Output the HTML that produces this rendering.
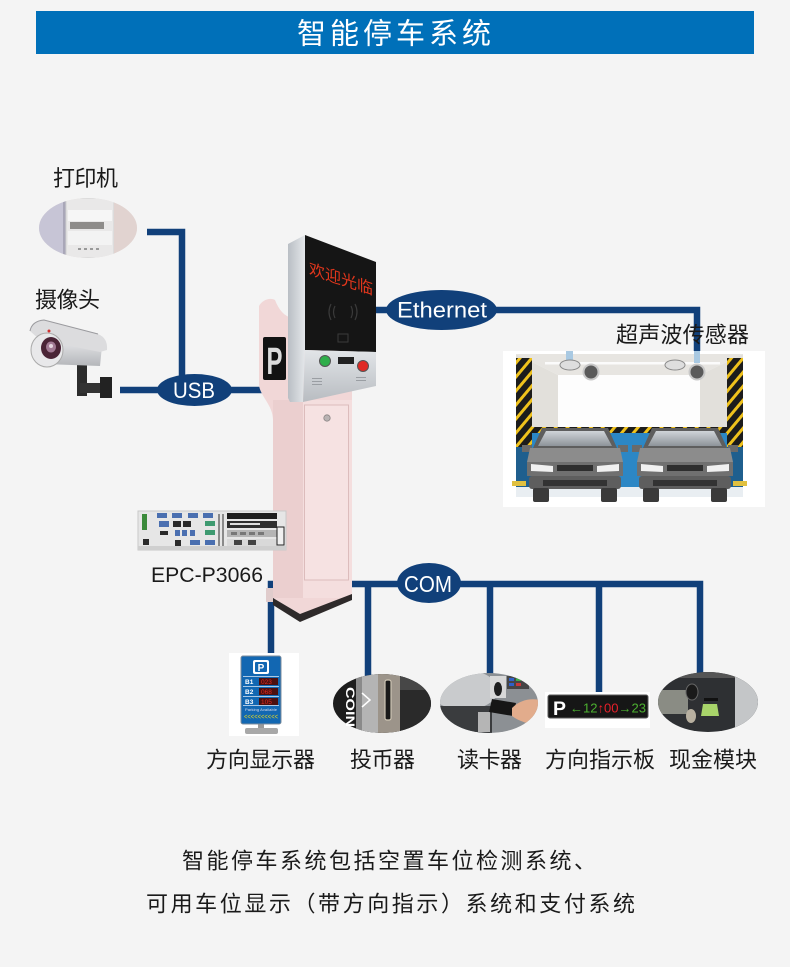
<!DOCTYPE html>
<html><head><meta charset="utf-8"><style>
html,body{margin:0;padding:0;background:#f4f4f4;}
svg{display:block;}
.cj{font-family:"Liberation Sans","Noto Sans CJK SC",sans-serif;}
.la{font-family:"Liberation Sans","DejaVu Sans",sans-serif;}
</style></head><body>
<svg width="790" height="967" viewBox="0 0 790 967" xmlns="http://www.w3.org/2000/svg">
<defs>
<pattern id="hz" width="9" height="9" patternUnits="userSpaceOnUse" patternTransform="rotate(40)">
<rect width="9" height="9" fill="#f0c21c"/><rect width="6" height="9" fill="#1c1c1c"/></pattern>
<linearGradient id="silv" x1="0" y1="0" x2="1" y2="0"><stop offset="0" stop-color="#b9bec4"/><stop offset="1" stop-color="#e4e7ea"/></linearGradient>
<linearGradient id="silv2" x1="0" y1="0" x2="0" y2="1"><stop offset="0" stop-color="#e2e5e8"/><stop offset="1" stop-color="#b8bcc1"/></linearGradient>
<linearGradient id="ws" x1="0" y1="0" x2="0" y2="1"><stop offset="0" stop-color="#d0d4d8"/><stop offset="1" stop-color="#8e949a"/></linearGradient>
<linearGradient id="cam" x1="0" y1="0" x2="0" y2="1"><stop offset="0" stop-color="#f2f2f4"/><stop offset="1" stop-color="#b4b6ba"/></linearGradient>
<clipPath id="cpP"><ellipse cx="88" cy="228" rx="49" ry="30"/></clipPath>
<clipPath id="cpC"><ellipse cx="382" cy="703.5" rx="49" ry="29.5"/></clipPath>
<clipPath id="cpR"><ellipse cx="489" cy="703" rx="49" ry="30"/></clipPath>
<clipPath id="cpM"><ellipse cx="708" cy="702" rx="50" ry="30"/></clipPath>
<g id="car">
<polygon points="15,0 81,0 90,20 6,20" fill="#5e5e5e"/>
<polygon points="19,3 77,3 85,18 11,18" fill="url(#ws)"/>
<polygon points="-5,17 5,17 5,24 -5,24" fill="#6a6a6a"/>
<polygon points="91,17 101,17 101,24 91,24" fill="#6a6a6a"/>
<polygon points="3,20 93,20 96,34 0,34" fill="#8c8c8c"/>
<rect x="0" y="34" width="96" height="14" fill="#707070"/>
<polygon points="4,36 26,38 26,44 4,43" fill="#f0f0f0"/>
<polygon points="92,36 70,38 70,44 92,43" fill="#f0f0f0"/>
<rect x="30" y="37" width="36" height="6" fill="#2e2e2e"/>
<rect x="2" y="48" width="92" height="13" rx="3" fill="#5e5e5e"/>
<rect x="16" y="52" width="64" height="6" fill="#333"/>
<rect x="6" y="60" width="16" height="14" rx="2" fill="#3a3a3a"/>
<rect x="74" y="60" width="16" height="14" rx="2" fill="#3a3a3a"/>
</g>
</defs>

<rect width="790" height="967" fill="#f4f4f4"/>

<!-- header -->
<rect x="36" y="11" width="718" height="43" fill="#0070b9"/>
<text class="cj" x="297" y="43.5" font-size="29" fill="#fff" textLength="194">智能停车系统</text>

<!-- printer -->
<g clip-path="url(#cpP)">
<rect x="39" y="198" width="98" height="60" fill="#e4dcda"/>
<rect x="39" y="198" width="26" height="60" fill="#c7c5d6"/>
<rect x="63" y="198" width="3" height="60" fill="#a9a7b8"/>
<rect x="66" y="198" width="48" height="60" fill="#e9e8e8" stroke="#cfcfcf" stroke-width="1"/>
<rect x="68" y="210" width="44" height="11" fill="#f6f6f6"/>
<rect x="70" y="222" width="34" height="7" fill="#8e8c8a"/>
<rect x="68" y="231" width="44" height="14" fill="#f3f3f3"/>
<rect x="78" y="248" width="3" height="2" fill="#999"/><rect x="84" y="248" width="3" height="2" fill="#999"/><rect x="90" y="248" width="3" height="2" fill="#999"/><rect x="96" y="248" width="3" height="2" fill="#999"/>
<rect x="114" y="198" width="23" height="60" fill="#e1d3d0"/>
</g>
<text class="cj" x="53" y="186" font-size="22" fill="#1a1a1a" textLength="65">打印机</text>

<!-- camera -->
<text class="cj" x="35" y="307.5" font-size="22" fill="#1a1a1a" textLength="65">摄像头</text>
<g>
<rect x="77" y="362" width="10" height="34" fill="#2c2c2c"/>
<rect x="80" y="383" width="26" height="10" fill="#333"/>
<rect x="100" y="377" width="12" height="21" fill="#222"/>
<polygon points="40,334 102,346 100,366 44,364" fill="url(#cam)"/>
<path d="M30,331 Q32,321 44,320 L98,334 Q108,338 107,350 L100,352 L40,340 Z" fill="#dcdcde"/>
<path d="M30,331 Q32,321 44,320 L98,334" fill="none" stroke="#9a9a9e" stroke-width="1"/>
<ellipse cx="47" cy="350" rx="16" ry="17" fill="#e8e8ea" stroke="#aaa" stroke-width="1"/>
<ellipse cx="51" cy="348" rx="10" ry="11" fill="#4a2436"/>
<ellipse cx="51" cy="347" rx="5" ry="5.5" fill="#a27a94"/>
<circle cx="51" cy="346" r="2" fill="#e6d6e0"/>
<circle cx="49" cy="331" r="1.5" fill="#d03030"/>
</g>

<!-- connectors -->
<g fill="none" stroke="#11407a" stroke-width="6.5">
<path d="M147,232 H182 V382"/>
<path d="M120,390 H263"/>
<path d="M374,310 H697 V352"/>
<path d="M271,654 V584 H700 V673"/>
<path d="M368,584 V676"/>
<path d="M490,584 V674"/>
<path d="M599,584 V695"/>
</g>
<ellipse cx="194.5" cy="390" rx="37.5" ry="16" fill="#11407a"/>
<text class="la" x="173" y="398" font-size="22" fill="#fff" textLength="42" lengthAdjust="spacingAndGlyphs">USB</text>
<ellipse cx="441.5" cy="310" rx="55.5" ry="20" fill="#11407a"/>
<text class="la" x="397" y="317.5" font-size="22" fill="#fff" textLength="90" lengthAdjust="spacingAndGlyphs">Ethernet</text>
<ellipse cx="429" cy="583" rx="32" ry="20" fill="#11407a"/>
<text class="la" x="404" y="592" font-size="23" fill="#fff" textLength="48" lengthAdjust="spacingAndGlyphs">COM</text>

<!-- kiosk pedestal -->
<path d="M259,306 C262,300 270,297 275,300 C279,310 284,316 292,318 L352,318 L352,598 L300,614 L273,598 L273,420 C273,405 260,396 259,385 Z" fill="#f1d7d7"/>
<rect x="273" y="400" width="30" height="198" fill="#ebcfcf"/>
<rect x="303" y="400" width="49" height="198" fill="#f4dede"/>
<rect x="304.5" y="405" width="44" height="175" fill="#f6e2e2" stroke="#dcbcbc" stroke-width="1"/>
<circle cx="327" cy="418" r="3.2" fill="#b9b3b3" stroke="#8a8484" stroke-width="0.8"/>
<polygon points="273,598 300,614 352,594 352,600 300,622 273,605" fill="#2e2a2a"/>
<rect x="266" y="588" width="7" height="14" fill="#e0cccc"/>
<rect x="263" y="337" width="23" height="43" rx="2" fill="#121212"/>
<text class="la" x="266.5" y="374" font-size="38" font-weight="bold" fill="#dcdcdc" textLength="16" lengthAdjust="spacingAndGlyphs">P</text>
<!-- kiosk head -->
<polygon points="288,244 305,235 305,350 303,402 290,402 288,398" fill="url(#silv)"/>
<polygon points="305,235 376,262 376,352 305,350" fill="#151515"/>
<polygon points="305,350 376,352 376,386 303,402" fill="url(#silv2)"/>
<text class="cj" transform="translate(309,274) skewY(18)" x="0" y="0" font-size="16" fill="#e0361c">欢迎光临</text>
<g fill="none" stroke="#3a3a3a" stroke-width="1.2">
<path d="M335,306 Q332,312 335,318"/><path d="M331,304 Q327,312 331,320"/>
<path d="M351,306 Q354,312 351,318"/><path d="M355,304 Q359,312 355,320"/>
</g>
<rect x="338" y="334" width="10" height="8" fill="none" stroke="#3a3a3a" stroke-width="1"/>
<circle cx="325" cy="361" r="5.5" fill="#2fae4a" stroke="#555" stroke-width="1"/>
<circle cx="363" cy="366" r="5.5" fill="#e02a24" stroke="#555" stroke-width="1"/>
<rect x="338" y="357" width="16" height="7" fill="#222"/>
<g fill="#9a9ea3"><rect x="312" y="378" width="10" height="1"/><rect x="312" y="381" width="10" height="1"/><rect x="312" y="384" width="10" height="1"/><rect x="356" y="377" width="10" height="1"/><rect x="356" y="380" width="10" height="1"/></g>

<!-- parking scene -->
<rect x="503" y="351" width="262" height="156" fill="#fff"/>
<polygon points="516,354 743,354 700,375 558,375" fill="#e7e5e1"/>
<rect x="545" y="362" width="175" height="2.5" fill="#fbfbfb"/>
<polygon points="516,354 558,375 558,427 516,447" fill="#e2e0db"/>
<polygon points="743,354 700,375 700,427 743,447" fill="#e2e0db"/>
<rect x="558" y="375" width="142" height="52" fill="#fdfdfd"/>
<rect x="532" y="427" width="195" height="6" fill="url(#hz)"/>
<rect x="516" y="433" width="227" height="54" fill="#2c87c5"/>
<rect x="516" y="433" width="16" height="54" fill="#1f5f8e"/>
<rect x="727" y="433" width="16" height="54" fill="#1f5f8e"/>
<rect x="516" y="358" width="16" height="89" fill="url(#hz)"/>
<rect x="727" y="358" width="16" height="89" fill="url(#hz)"/>
<rect x="512" y="481" width="14" height="5" fill="#e0c040"/>
<rect x="733" y="481" width="14" height="5" fill="#e0c040"/>
<rect x="516" y="487" width="227" height="10" fill="#e9eef2"/>
<rect x="566" y="351" width="7" height="11" fill="#a9c9e2"/>
<rect x="694" y="351" width="6" height="12" fill="#a9c9e2"/>
<ellipse cx="570" cy="365" rx="10" ry="5" fill="#dedede" stroke="#8a8a8a" stroke-width="1"/>
<circle cx="591" cy="372" r="7.5" fill="#5a5a5a" stroke="#c8c8c8" stroke-width="2"/>
<ellipse cx="675" cy="365" rx="10" ry="5" fill="#dedede" stroke="#8a8a8a" stroke-width="1"/>
<circle cx="697" cy="372" r="7.5" fill="#5a5a5a" stroke="#c8c8c8" stroke-width="2"/>
<use href="#car" transform="translate(527,428)"/>
<use href="#car" transform="translate(637,428)"/>
<text class="cj" x="616" y="342.5" font-size="22" fill="#1a1a1a" textLength="133">超声波传感器</text>

<!-- EPC -->
<rect x="138" y="511" width="148" height="39" fill="#e6e6e6" stroke="#c9c9c9" stroke-width="1"/>
<rect x="138" y="546" width="148" height="4" fill="#cfcfcf"/>
<rect x="142" y="514" width="5" height="16" fill="#3a8a3a"/>
<g fill="#4a6fb0"><rect x="157" y="513" width="10" height="5"/><rect x="172" y="513" width="10" height="5"/><rect x="188" y="513" width="10" height="5"/><rect x="203" y="513" width="10" height="5"/>
<rect x="159" y="521" width="10" height="6"/><rect x="175" y="530" width="5" height="6"/><rect x="182" y="530" width="5" height="6"/><rect x="190" y="530" width="5" height="6"/><rect x="190" y="540" width="10" height="5"/><rect x="205" y="540" width="10" height="5"/></g>
<g fill="#2a2a2a"><rect x="173" y="521" width="8" height="6"/><rect x="183" y="521" width="8" height="6"/><rect x="160" y="531" width="8" height="4"/><rect x="175" y="540" width="6" height="6"/><rect x="143" y="539" width="6" height="6"/></g>
<rect x="205" y="521" width="10" height="5" fill="#3e9a70"/>
<rect x="205" y="530" width="10" height="5" fill="#3e9a70"/>
<g fill="#8a8a8a"><rect x="218" y="514" width="2" height="32"/><rect x="222" y="514" width="2" height="32"/></g>
<rect x="227" y="513" width="50" height="6" fill="#1e1e1e"/>
<rect x="227" y="521" width="50" height="7" fill="#2e2e2e"/>
<rect x="230" y="523" width="30" height="2" fill="#ddd"/>
<rect x="227" y="530" width="50" height="7" fill="#b5b5b5"/>
<g fill="#777"><rect x="231" y="532" width="6" height="3"/><rect x="240" y="532" width="6" height="3"/><rect x="249" y="532" width="6" height="3"/><rect x="258" y="532" width="6" height="3"/></g>
<rect x="227" y="539" width="50" height="7" fill="#d9d9d9"/>
<rect x="234" y="540" width="8" height="5" fill="#444"/><rect x="248" y="540" width="8" height="5" fill="#444"/>
<rect x="277" y="527" width="7" height="18" fill="#f0f0f0" stroke="#222" stroke-width="1"/>
<text class="la" x="151" y="582" font-size="21" fill="#1a1a1a" textLength="112" lengthAdjust="spacingAndGlyphs">EPC-P3066</text>

<!-- direction display -->
<rect x="229" y="653" width="70" height="83" fill="#fff"/>
<rect x="258" y="722" width="6" height="8" fill="#9a9a9a"/>
<rect x="245" y="728" width="33" height="6" rx="2" fill="#a8a8a8"/>
<rect x="241" y="656" width="40" height="68" rx="2" fill="#1267b2" stroke="#7d8c9c" stroke-width="1"/>
<rect x="253" y="660" width="16" height="14" rx="2" fill="#fff"/>
<rect x="255" y="662" width="12" height="10" rx="1" fill="#1267b2"/>
<text class="la" x="261" y="671" font-size="10" font-weight="bold" fill="#fff" text-anchor="middle">P</text>
<g fill="#cfe0f0"><rect x="243" y="676" width="36" height="0.8"/><rect x="243" y="686" width="36" height="0.8"/><rect x="243" y="696" width="36" height="0.8"/><rect x="243" y="705" width="36" height="0.8"/></g>
<g fill="#4a1010"><rect x="259" y="678" width="19" height="7"/><rect x="259" y="688" width="19" height="7"/><rect x="259" y="698" width="19" height="7"/></g>
<g class="la" font-size="6.5" font-weight="bold" fill="#fff"><text x="245" y="684">B1</text><text x="245" y="694">B2</text><text x="245" y="704">B3</text></g>
<g class="la" font-size="6.5" fill="#e02a20"><text x="261" y="684">023</text><text x="261" y="694">068</text><text x="261" y="704">105</text></g>
<text class="la" x="245" y="711" font-size="4" fill="#dde" textLength="32">Parking Available</text>
<text class="la" x="244" y="719" font-size="7" fill="#e8d81c" textLength="34" lengthAdjust="spacingAndGlyphs">&lt;&lt;&lt;&lt;&lt;&lt;&lt;&lt;&lt;&lt;</text>

<!-- coin -->
<g clip-path="url(#cpC)">
<rect x="333" y="674" width="98" height="60" fill="#1c1c1c"/>
<rect x="356" y="674" width="22" height="60" fill="#b4b4b4"/>
<rect x="356" y="674" width="6" height="60" fill="#8a8a8a"/>
<polyline points="362,693 370,700 362,707" fill="none" stroke="#fff" stroke-width="1.5"/>
<rect x="378" y="674" width="22" height="60" fill="#9c948a"/>
<rect x="385" y="680" width="6" height="40" rx="2" fill="#1a1a1a" stroke="#cfc6b5" stroke-width="1.2"/>
<rect x="400" y="674" width="31" height="60" fill="#2a2a2a"/>
<rect x="400" y="674" width="31" height="16" fill="#474747"/>
</g>
<text class="la" transform="translate(346,687) rotate(90)" x="0" y="0" font-size="12" font-weight="bold" fill="#fff" textLength="40" lengthAdjust="spacingAndGlyphs">COIN</text>

<!-- card reader -->
<g clip-path="url(#cpR)">
<rect x="440" y="673" width="98" height="60" fill="#8c9094"/>
<ellipse cx="464" cy="690" rx="34" ry="20" fill="#c9cbcd"/>
<rect x="440" y="706" width="52" height="30" fill="#3a3c3e"/>
<rect x="478" y="712" width="12" height="20" fill="#b5b5b5"/>
<rect x="490" y="676" width="16" height="22" fill="#d8d8d8"/>
<ellipse cx="498" cy="689" rx="4" ry="7" fill="#1e1e1e"/>
<rect x="507" y="676" width="22" height="13" fill="#454545"/>
<rect x="509" y="678" width="5" height="3" fill="#3060c8"/><rect x="516" y="678" width="5" height="3" fill="#40a848"/><rect x="509" y="683" width="5" height="3" fill="#3060c8"/><rect x="516" y="683" width="5" height="3" fill="#c83838"/>
<polygon points="492,699 516,703 513,716 489,712" fill="#161616"/>
<path d="M512,708 C520,700 530,698 540,700 L540,726 C530,724 520,722 512,716 Z" fill="#e2ac8c"/>
</g>

<!-- direction board -->
<rect x="545" y="692" width="105" height="36" fill="#fff"/>
<rect x="548" y="695" width="100" height="23" rx="2" fill="#161616" stroke="#5a5a5a" stroke-width="1"/>
<text class="la" x="553" y="715" font-size="19" font-weight="bold" fill="#fff" textLength="13" lengthAdjust="spacingAndGlyphs">P</text>
<text class="la" x="570" y="712.5" font-size="13" textLength="76" lengthAdjust="spacingAndGlyphs"><tspan fill="#4cb030">←12</tspan><tspan fill="#e8202a">↑00</tspan><tspan fill="#4cb030">→23</tspan></text>

<!-- cash module -->
<g clip-path="url(#cpM)">
<rect x="658" y="672" width="100" height="60" fill="#2e3033"/>
<rect x="658" y="672" width="100" height="6" fill="#555"/>
<rect x="658" y="690" width="30" height="24" fill="#8a8c84"/>
<rect x="735" y="672" width="23" height="60" fill="#c4c6c8"/>
<ellipse cx="692" cy="692" rx="6" ry="8" fill="#1a1a1a" stroke="#666" stroke-width="1"/>
<ellipse cx="691" cy="716" rx="5" ry="7" fill="#b8b0a0"/>
<rect x="704" y="698" width="14" height="3" fill="#111"/>
<polygon points="703,704 717,704 719,716 701,716" fill="#a8d46a"/>
</g>

<!-- device labels -->
<g class="cj" font-size="22" fill="#1a1a1a">
<text x="206" y="767.5" textLength="109">方向显示器</text>
<text x="350" y="767.5" textLength="65">投币器</text>
<text x="457" y="767.5" textLength="65">读卡器</text>
<text x="545" y="767.5" textLength="110">方向指示板</text>
<text x="669" y="767.5" textLength="88">现金模块</text>
</g>

<!-- bottom text -->
<g class="cj" font-size="22" fill="#1a1a1a">
<text x="182" y="868.5" textLength="414">智能停车系统包括空置车位检测系统、</text>
<text x="146" y="911.5" textLength="489">可用车位显示（带方向指示）系统和支付系统</text>
</g>
</svg>
</body></html>
